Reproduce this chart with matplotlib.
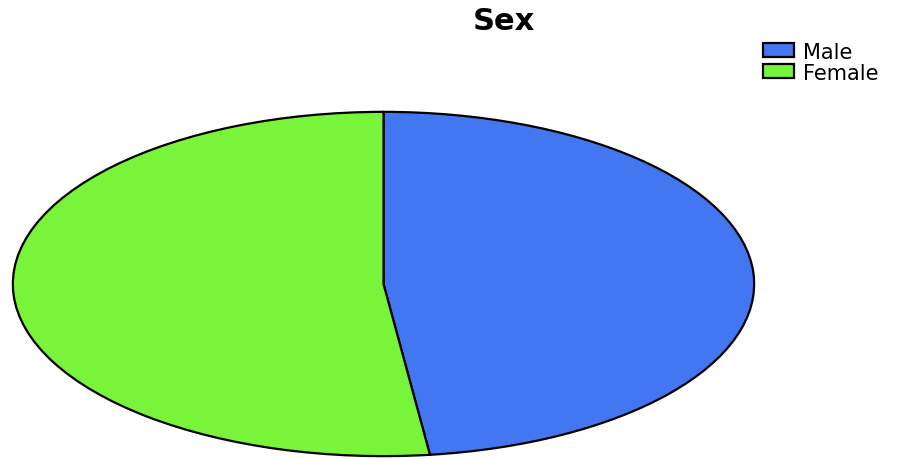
import matplotlib
matplotlib.use("Agg")
import matplotlib.pyplot as plt

labels = ["Male", "Female"]
values = [48, 52]
colors = ["#4377f2", "#78f53a"]
title = "Sex"

fig = plt.figure(figsize=(9.17, 4.6), dpi=100)
W, H = 917, 460
ax = fig.add_axes([11 / W, (460 - 458) / H, (756 - 11) / W, (458 - 112) / H])
wedges, _ = ax.pie(values, colors=colors, startangle=90, counterclock=False,
                   wedgeprops=dict(edgecolor="black", linewidth=1.6))
ax.set_aspect("auto")
ax.set_xlim(-1.005, 1.005)
ax.set_ylim(-1.005, 1.005)
ax.axis("off")

fig.text(504 / W, 1 - 21 / H, title, ha="center", va="center",
         fontsize=22, fontweight="bold", family="DejaVu Sans")

leg = fig.legend(wedges, labels, loc="upper left",
                 bbox_to_anchor=(748 / W, 1 - 28 / H), frameon=False,
                 fontsize=15, handlelength=1.5, handleheight=0.65,
                 handletextpad=0.45, labelspacing=0.05, borderpad=0.2)
for t in leg.get_texts():
    t.set_family("DejaVu Sans")

fig.savefig("out.png", dpi=100)
